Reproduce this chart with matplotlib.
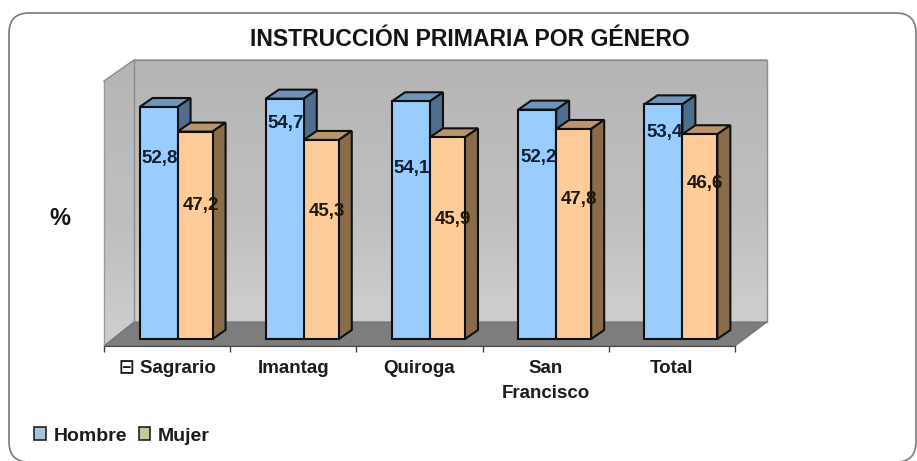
import numpy as np
import matplotlib
matplotlib.use("Agg")
import matplotlib.pyplot as plt
from matplotlib.patches import FancyBboxPatch, Polygon, Patch

plt.rcParams['font.family'] = ['Liberation Sans', 'DejaVu Sans']
plt.rcParams['font.weight'] = 'bold'

categorias = ["\u229f Sagrario", "Imantag", "Quiroga", "San\nFrancisco", "Total"]
hombre = [52.8, 54.7, 54.1, 52.2, 53.4]
mujer = [47.2, 45.3, 45.9, 47.8, 46.6]
etiquetas_hombre = ["52,8", "54,7", "54,1", "52,2", "53,4"]
etiquetas_mujer = ["47,2", "45,3", "45,9", "47,8", "46,6"]

# altura de las etiquetas (en %), no van centradas en la barra
alto_hombre = [41.0, 49.0, 38.9, 41.2, 47.1]
alto_mujer = [30.3, 29.0, 27.3, 31.7, 35.3]

W, H = 917, 461
px_y = 4.394    # pixeles por 1 %
px_x = 126.2    # pixeles por categoria
x0, x1 = 104, 735
y_cero = 339
y_suelo = 346
y_tope = 60

fig = plt.figure(figsize=(W / 100, H / 100), dpi=100)

# fondo en pixeles: tarjeta y paredes
bg = fig.add_axes([0, 0, 1, 1])
bg.axis("off")
card = FancyBboxPatch((9, 13), 907, 449, boxstyle="round,pad=0,rounding_size=20",
                      fc="white", ec="#7a7a7a", lw=1.2, zorder=0)
bg.add_patch(card)

grad = np.array([[0.71], [0.72], [0.73], [0.74], [0.74], [0.76], [0.78], [0.80]])
pared = bg.imshow(grad, extent=[134, 767, 322, 60], cmap="gray", vmin=0, vmax=1,
                  aspect="auto", interpolation="bilinear", zorder=1)
lado = bg.imshow(grad, extent=[104, 134, 346, 60], cmap="gray", vmin=0, vmax=1,
                 aspect="auto", interpolation="bilinear", zorder=1)
lado_poly = Polygon([(104, 81), (134, 60), (134, 322), (104, 346)], closed=True,
                    fc="none", ec="none", transform=bg.transData)
bg.add_patch(lado_poly)
lado.set_clip_path(lado_poly)
bg.add_patch(Polygon([(104, 346), (134, 322), (767, 322), (735, 346)], closed=True,
                     fc="#7d7d7d", ec="#6f6f6f", lw=0.8, zorder=2))
bg.plot([134, 134, 767, 767], [322, 60, 60, 322], color="#8c8c8c", lw=1, zorder=2)
bg.plot([104, 134], [81, 60], color="#8c8c8c", lw=1, zorder=2)
bg.plot([104, 104], [81, 346], color="#9a9a9a", lw=1, zorder=2)
bg.set_xlim(0, W)
bg.set_ylim(H, 0)

bg.text(470, 39, "INSTRUCCI\u00d3N PRIMARIA POR G\u00c9NERO", fontsize=16.6,
        ha="center", va="center", color="#141414")
bg.text(60, 218, "%", fontsize=17, ha="center", va="center", color="#141414")

# ejes de datos
ax = fig.add_axes([x0 / W, 1 - y_suelo / H, (x1 - x0) / W, (y_suelo - y_tope) / H])
ax.patch.set_alpha(0)
ax.set_xlim(0, 5)
ax.set_ylim(-(y_suelo - y_cero) / px_y, (y_cero - y_tope) / px_y)
for s in ["top", "left", "right"]:
    ax.spines[s].set_visible(False)
ax.spines["bottom"].set_color("#444444")
ax.set_yticks([])
ax.set_xticks(range(6))
ax.set_xticklabels([])
ax.tick_params(axis="x", which="major", length=4, width=1, color="#444444")
ax.set_xticks(np.arange(5) + 0.5, minor=True)
ax.set_xticklabels(categorias, minor=True, fontsize=13.5, linespacing=1.6, color="#1c1c1c")
ax.tick_params(axis="x", which="minor", length=0, pad=10)

dx = 13 / px_x
dy = 9 / px_y
ancho_h = 38 / px_x
ancho_m = 35 / px_x
centros = np.arange(5) + 0.583


def barra3d(xi, ancho, v, frente, arriba, lado_c, z):
    ax.bar(xi, v, ancho, align="edge", color=frente, edgecolor="#101010", lw=1.5, zorder=z + 1)
    ax.add_patch(Polygon([(xi, v), (xi + dx, v + dy), (xi + ancho + dx, v + dy), (xi + ancho, v)],
                         closed=True, fc=arriba, ec="#101010", lw=1.5, zorder=z))
    ax.add_patch(Polygon([(xi + ancho, 0), (xi + ancho + dx, dy), (xi + ancho + dx, v + dy), (xi + ancho, v)],
                         closed=True, fc=lado_c, ec="#101010", lw=1.5, zorder=z))


for i in range(5):
    barra3d(centros[i] - ancho_h, ancho_h, hombre[i], "#99ccff", "#6f94bd", "#4f6d8f", 3)
    barra3d(centros[i], ancho_m, mujer[i], "#ffcc99", "#b8956c", "#8a6b4a", 5)
    ax.text(centros[i] - 18 / px_x, alto_hombre[i], etiquetas_hombre[i], fontsize=13.5,
            ha="center", va="center", color="#102030", zorder=8)
    ax.text(centros[i] + 23 / px_x, alto_mujer[i], etiquetas_mujer[i], fontsize=13.5,
            ha="center", va="center", color="#201808", zorder=8)

handles = [Patch(fc="#a9c4d8", ec="#222222", lw=1.2, label="Hombre"),
           Patch(fc="#c9c79a", ec="#222222", lw=1.2, label="Mujer")]
bg.legend(handles=handles, loc="center left", bbox_to_anchor=(34 / W, 1 - 436 / H),
          bbox_transform=fig.transFigure, ncols=2, frameon=False, fontsize=14,
          handlelength=0.6, handleheight=0.6, handletextpad=0.4, columnspacing=0.6,
          borderpad=0, borderaxespad=0, labelcolor="#1c1c1c")

fig.savefig("out.png", dpi=100)
